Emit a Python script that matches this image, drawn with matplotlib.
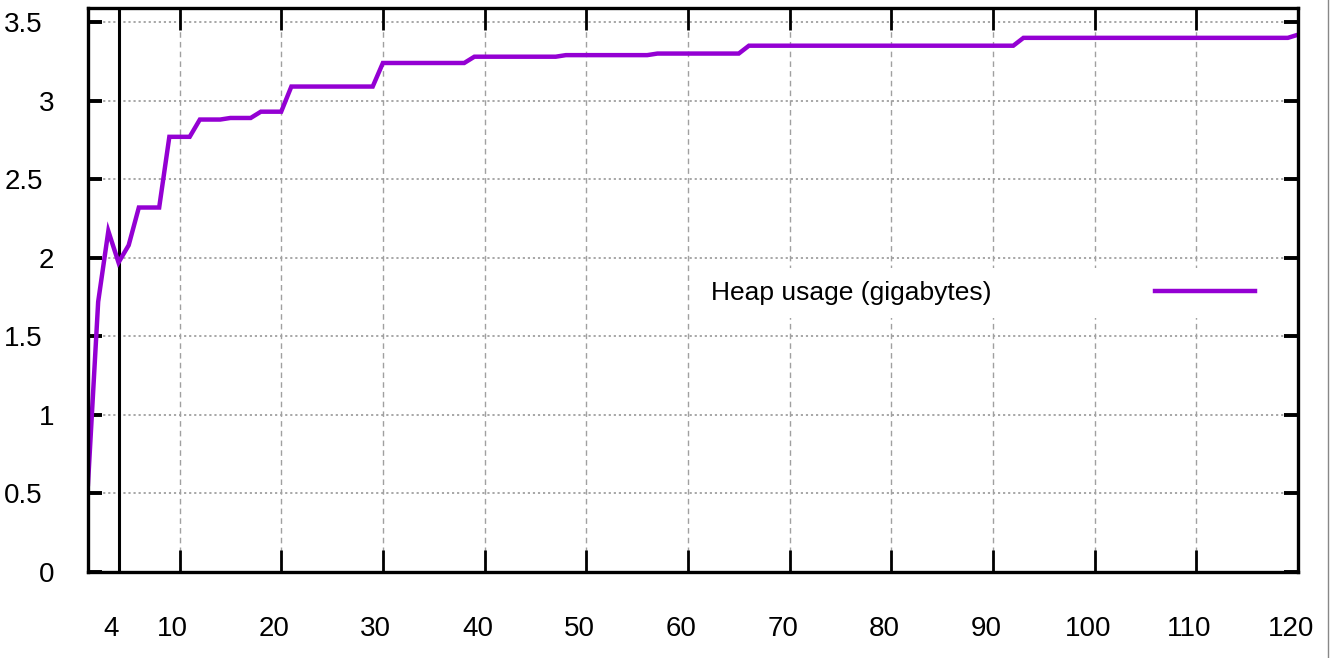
import matplotlib
matplotlib.use('Agg')
import matplotlib.pyplot as plt
import matplotlib.transforms as mtransforms
from matplotlib.lines import Line2D

plt.rcParams['font.family'] = ['Liberation Sans', 'DejaVu Sans']

# heap usage over time (kink points only)
t = [1, 2, 3, 4, 5, 6, 8, 9, 11, 12, 14, 15, 17, 18, 20, 21, 29, 30,
     38, 39, 47, 48, 56, 57, 65, 66, 92, 93, 119, 120]
heap_gb = [0.56, 1.72, 2.17, 1.97, 2.08, 2.32, 2.32, 2.77, 2.77, 2.88, 2.88,
           2.89, 2.89, 2.93, 2.93, 3.09, 3.09, 3.24, 3.24, 3.28, 3.28, 3.29,
           3.29, 3.30, 3.30, 3.35, 3.35, 3.40, 3.40, 3.42]
series_label = 'Heap usage (gigabytes)'

xticks = [4, 10, 20, 30, 40, 50, 60, 70, 80, 90, 100, 110, 120]
yticks = [0, 0.5, 1, 1.5, 2, 2.5, 3, 3.5]
ytick_labels = ['0', '0.5', '1', '1.5', '2', '2.5', '3', '3.5']

fig = plt.figure(figsize=(13.32, 6.58), dpi=100)
ax = fig.add_axes([88 / 1332, 1 - 572 / 658, 1210 / 1332, 564 / 658])

# grid: dotted horizontal, dashed vertical (not at 4)
for yv in yticks[1:]:
    ax.axhline(yv, color='#a0a0a0', lw=1.3, ls=(0, (1.2, 1.6)), zorder=1)
for xv in xticks[1:]:
    ax.axvline(xv, color='#a0a0a0', lw=1.0, ls=(0, (4, 3)), zorder=1)
ax.axvline(4, color='black', lw=2.2, zorder=3)

ax.plot(t, heap_gb, color='#9400d3', lw=3.2, label=series_label, zorder=4,
        solid_joinstyle='miter')

ax.set_xlim(1, 120)
ax.set_ylim(0, 3.59)
ax.set_xticks(xticks)
ax.set_yticks(yticks)
ax.set_yticklabels(ytick_labels)

for s in ax.spines.values():
    s.set_linewidth(2.4)
    s.set_zorder(5)

ax.tick_params(axis='y', direction='in', length=10, width=2.8, left=True,
               right=True, labelsize=20, pad=24.5)
ax.tick_params(axis='x', direction='in', length=16, width=2.0, top=True,
               bottom=True, labelsize=20, pad=32)

# decimal y labels sit further left in the reference; x labels slightly left
for lab in ax.get_yticklabels():
    if '.' in lab.get_text():
        lab.set_transform(lab.get_transform() +
                          mtransforms.ScaledTranslation(-0.11, 0, fig.dpi_scale_trans))
for lab in ax.get_xticklabels():
    lab.set_transform(lab.get_transform() +
                      mtransforms.ScaledTranslation(-0.07, 0, fig.dpi_scale_trans))

leg = ax.legend(loc='center', bbox_to_anchor=(0.7397, 0.4947), markerfirst=False,
                fontsize=19, handlelength=3.8, handletextpad=6.2,
                frameon=True, fancybox=False, borderpad=0.5)
leg.get_frame().set_facecolor('white')
leg.get_frame().set_edgecolor('none')
leg.get_frame().set_alpha(1)
leg.set_zorder(6)

# thin grey border at right edge of the image
fig.add_artist(Line2D([1327.5 / 1332] * 2, [0, 1], color='#888888', lw=1.0,
                      transform=fig.transFigure))

fig.savefig('out.png', dpi=100)
